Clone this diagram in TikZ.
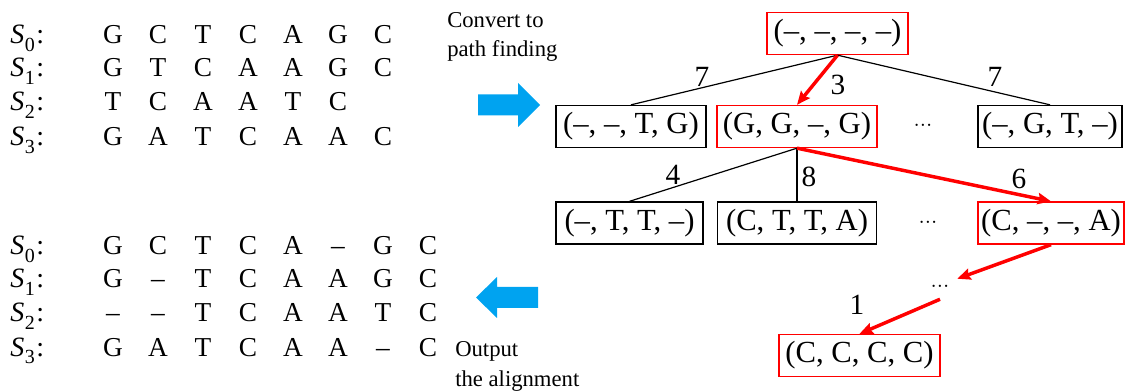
\documentclass[tikz,border=0pt]{standalone}
\usepackage{fontspec}
\setmainfont{Liberation Serif}
\usetikzlibrary{arrows.meta}
\definecolor{flowblue}{RGB}{0,163,240}
\definecolor{pathred}{RGB}{255,0,0}
\newcommand\seqlabel[1]{\textit{S}\kern0.5pt\raisebox{-0.28em}{\fontsize{15}{15}\selectfont #1}\kern1pt:}
\begin{document}
\begin{tikzpicture}[x=0.75pt,y=-0.75pt,
  state/.style={draw=black, line width=1pt, inner sep=0pt, minimum height=31.5pt,
    font=\fontsize{23}{27}\selectfont},
  onpath/.style={state, draw=pathred},
  edge/.style={draw=black, line width=0.9pt},
  best/.style={draw=pathred, line width=2.6pt,
    -{Stealth[length=10pt,width=8.5pt,inset=1.5pt]}},
  cost/.style={font=\fontsize{22}{26}\selectfont, inner sep=0pt},
  seq/.style={font=\fontsize{20.5}{24}\selectfont, anchor=base, inner sep=0pt},
  seqname/.style={font=\fontsize{21}{24}\selectfont, anchor=base west, inner sep=0pt},
  more/.style={font=\fontsize{14}{16}\selectfont, inner sep=0pt},
  note/.style={font=\fontsize{17}{22}\selectfont, anchor=base west, inner sep=0pt},
]
\useasboundingbox (0,0) rectangle (1127,391);

% input sequences
\foreach \r/\yb/\seqs in {0/43.5/{G,C,T,C,A,G,C},1/77/{G,T,C,A,A,G,C},
                          2/111/{T,C,A,A,T,C},3/146/{G,A,T,C,A,A,C}}{
  \node[seqname] (in-s\r) at (10,\yb) {\seqlabel{\r}};
  \foreach \ch [count=\i] in \seqs
    \node[seq] (in-\r-\i) at ({113+45*(\i-1)},\yb) {\ch};
}

% aligned sequences
\foreach \r/\yb/\seqs in {0/254.5/{G,C,T,C,A,–,G,C},1/288/{G,–,T,C,A,A,G,C},
                          2/322/{–,–,T,C,A,A,T,C},3/356/{G,A,T,C,A,A,–,C}}{
  \node[seqname] (out-s\r) at (10,\yb) {\seqlabel{\r}};
  \foreach \ch [count=\i] in \seqs
    \node[seq] (out-\r-\i) at ({113+45*(\i-1)},\yb) {\ch};
}

% block arrows and their captions
\fill[flowblue] (478,94.5) -- (518,94.5) -- (518,83) -- (540,105)
  -- (518,127) -- (518,115.5) -- (478,115.5) -- cycle;
\fill[flowblue] (538,287) -- (497,287) -- (497,277) -- (476,297.5)
  -- (497,318) -- (497,308) -- (538,308) -- cycle;
\node[note] (conv1) at (447,28) {Convert to};
\node[note] (conv2) at (447,57) {path finding};
\node[note] (outp1) at (455,357) {Output};
\node[note] (outp2) at (455,386) {the alignment};

% search tree
\node[onpath, minimum width=105.75pt] (root) at (837.5,33.5) {(–, –, –, –)};
\node[state,  minimum width=112.5pt] (mmtg) at (631,126.5) {(–, –, T, G)};
\node[onpath, minimum width=120pt]   (ggmg) at (797,126.5) {(G, G, –, G)};
\node[more] (dots1) at (923,128) {···};
\node[state,  minimum width=108pt]   (mgtm) at (1050,126.5) {(–, G, T, –)};

\node[state,  minimum width=110.25pt] (mttm) at (629.5,223) {(–, T, T, –)};
\node[state,  minimum width=119.25pt] (ctta) at (797,223) {(C, T, T, A)};
\node[more] (dots2) at (928,225) {···};
\node[onpath, minimum width=109.5pt]  (cmma) at (1051,223) {(C, –, –, A)};

\node[more, minimum width=25.5pt, minimum height=15pt] (dots3) at (940,289) {···};
\node[onpath, minimum width=120.75pt] (cccc) at (859.5,355.5) {(C, C, C, C)};

\draw[edge] (root.south) -- (mmtg.north);
\draw[edge] (root.south) -- (mgtm.north);
\draw[best] (root.south) -- (ggmg.north);
\draw[edge] (ggmg.south) -- (mttm.north);
\draw[edge] (ggmg.south) -- (ctta.north);
\draw[best] (ggmg.south) -- (cmma.north);
\draw[best] (cmma.south) -- (dots3.north east);
\draw[best] (dots3.south) -- (cccc.north);

% edge costs
\node[cost] (c-root-mmtg) at (702,77) {7};
\node[cost] (c-root-ggmg) at (838,85) {3};
\node[cost] (c-root-mgtm) at (995,77) {7};
\node[cost] (c-ggmg-mttm) at (673,175) {4};
\node[cost] (c-ggmg-ctta) at (809,177) {8};
\node[cost] (c-ggmg-cmma) at (1019,179) {6};
\node[cost] (c-dots-cccc) at (857,305) {1};
\end{tikzpicture}
\end{document}
